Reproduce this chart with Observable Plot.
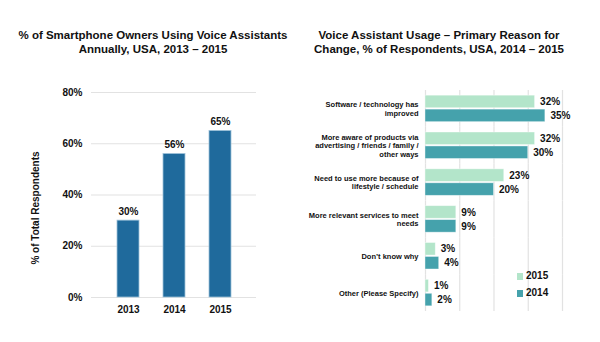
<!DOCTYPE html>
<html>
<head>
<meta charset="utf-8">
<script src="https://cdn.jsdelivr.net/npm/d3@7"></script>
<script src="https://cdn.jsdelivr.net/npm/@observablehq/plot@0.6"></script>
<style>
  html, body { margin: 0; padding: 0; background: #fff; }
  #root { position: relative; width: 600px; height: 342px; overflow: hidden; font-family: "Liberation Sans", Arial, Helvetica, sans-serif; color: #111; }
  .title { position: absolute; width: 300px; text-align: center; font-weight: bold; font-size: 11.5px; line-height: 14px; top: 28px; }
  .chart { position: absolute; top: 80px; }
  .ylabel { position: absolute; left: 35px; top: 208px; width: 0; height: 0; }
  .ylabel span { position: absolute; transform: translate(-50%, -50%) rotate(-90deg); white-space: nowrap; font-weight: bold; font-size: 10px; }
  .legend { position: absolute; left: 517px; font-weight: bold; font-size: 10px; line-height: 12px; display: flex; align-items: center; }
  .legend .sw { width: 6px; height: 7px; margin-right: 3px; display: inline-block; }
</style>
</head>
<body>
<div id="root">
  <div class="title" style="left:3px">% of Smartphone Owners Using Voice Assistants<br>Annually, USA, 2013 – 2015</div>
  <div class="title" style="left:289px">Voice Assistant Usage – Primary Reason for<br>Change, % of Respondents, USA, 2014 – 2015</div>
  <div class="chart" id="left" style="left:0px"></div>
  <div class="chart" id="right" style="left:300px"></div>
  <div class="ylabel"><span id="ylab"></span></div>
  <div class="legend" style="top:270px"><span class="sw" style="background:#b3e5ca"></span>2015</div>
  <div class="legend" style="top:287px"><span class="sw" style="background:#45a2ac"></span>2014</div>
</div>
<script>
// ---- Left chart data ----
const years = ["2013", "2014", "2015"];
const usageShare = [30, 56, 65];
const usageTicks = [0, 20, 40, 60, 80];
const usageAxisLabel = "% of Total Respondents";

// ---- Right chart data ----
const reasons = [
  "Software / technology has improved",
  "More aware of products via advertising / friends / family / other ways",
  "Need to use more because of lifestyle / schedule",
  "More relevant services to meet needs",
  "Don’t know why",
  "Other (Please Specify)"
];
const reasonLabels = [
  "Software / technology has\nimproved",
  "More aware of products via\nadvertising / friends / family /\nother ways",
  "Need to use more because of\nlifestyle / schedule",
  "More relevant services to meet\nneeds",
  "Don’t know why",
  "Other (Please Specify)"
];
const share2015 = [32, 32, 23, 9, 3, 1];
const share2014 = [35, 30, 20, 9, 4, 2];
const seriesYears = ["2015", "2014"];
const seriesColors = ["#b3e5ca", "#45a2ac"];
const reasonTicks = [0, 10, 20, 30, 40];

const FONT = '"Liberation Sans", Arial, Helvetica, sans-serif';

document.getElementById("ylab").textContent = usageAxisLabel;

// ---- Left chart ----
const leftData = years.map((y, i) => ({year: y, value: usageShare[i]}));
const left = Plot.plot({
  width: 300, height: 250,
  marginLeft: 91, marginRight: 44, marginTop: 12, marginBottom: 33,
  style: {fontFamily: FONT, color: "#111", background: "transparent"},
  x: {domain: years, padding: 0.53, axis: null},
  y: {domain: [0, 80], axis: null},
  marks: [
    Plot.gridY(usageTicks, {stroke: "#e2e2e2", strokeOpacity: 1, strokeWidth: 1.2}),
    Plot.barY(leftData, {x: "year", y: "value", fill: "#1f6a9c", stroke: "#9fc2da", strokeWidth: 0.8}),
    Plot.text(leftData, {x: "year", y: "value", text: d => d.value + "%", dy: -6, lineAnchor: "bottom", fontSize: 10, fontWeight: "bold", fill: "#111"}),
    Plot.axisX({tickSize: 0, tickPadding: 8, fontSize: 10, fontWeight: "bold", label: null, color: "#111"}),
    Plot.axisY(usageTicks, {tickSize: 0, tickPadding: 9, fontSize: 10, fontWeight: "bold", tickFormat: d => d + "%", label: null, color: "#111"})
  ]
});
document.getElementById("left").appendChild(left);

// ---- Right chart ----
const labelOf = new Map(reasons.map((r, i) => [r, reasonLabels[i]]));
const rightData = [];
reasons.forEach((r, i) => {
  rightData.push({reason: r, year: seriesYears[0], value: share2015[i]});
  rightData.push({reason: r, year: seriesYears[1], value: share2014[i]});
});
const right = Plot.plot({
  width: 300, height: 250,
  marginLeft: 125, marginRight: 38, marginTop: 10, marginBottom: 19,
  style: {fontFamily: FONT, color: "#111", background: "transparent"},
  x: {domain: [0, 40], axis: null},
  y: {domain: seriesYears, paddingInner: 0.1, paddingOuter: 0.37, round: false, axis: null},
  fy: {domain: reasons, padding: 0, round: false},
  color: {domain: seriesYears, range: seriesColors},
  marks: [
    Plot.gridX(reasonTicks, {stroke: "#e2e2e2", strokeOpacity: 1, strokeWidth: 1.2}),
    Plot.barX(rightData, {fy: "reason", y: "year", x: "value", fill: "year", stroke: "#ffffff", strokeOpacity: 0.5, strokeWidth: 0.8}),
    Plot.text(rightData, {fy: "reason", y: "year", x: "value", text: d => d.value + "%", dx: 5, textAnchor: "start", fontSize: 10, fontWeight: "bold", fill: "#111"}),
    Plot.axisFy({anchor: "left", tickSize: 0, tickPadding: 7, tickFormat: d => labelOf.get(d), fontSize: 7.5, fontWeight: "bold", lineHeight: 1.12, label: null, color: "#111"})
  ]
});
document.getElementById("right").appendChild(right);
</script>
</body>
</html>
